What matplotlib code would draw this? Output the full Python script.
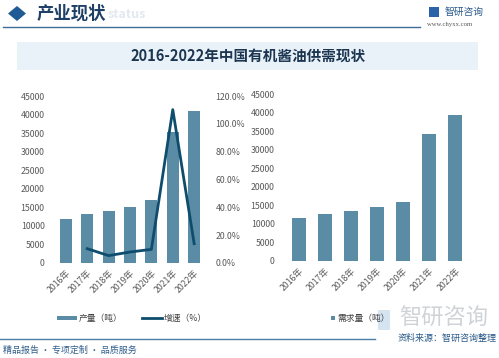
import matplotlib
matplotlib.use("Agg")
import matplotlib.pyplot as plt
from matplotlib.patches import Rectangle, Polygon
from matplotlib.lines import Line2D
from matplotlib.ticker import FuncFormatter

plt.rcParams['font.family'] = ['Noto Sans CJK SC', 'DejaVu Sans']

years = ['2016年', '2017年', '2018年', '2019年', '2020年', '2021年', '2022年']
production = [11950, 13100, 13900, 15200, 16900, 35300, 41000]
growth = [None, 10.3, 5.3, 7.9, 9.8, 110.2, 13.9]
demand = [11700, 12700, 13500, 14600, 15900, 34100, 39400]

W, H = 499, 358
BAR = '#5b8ca5'
LINE = '#0e4d6d'
TICK = '#595959'

fig = plt.figure(figsize=(W / 100, H / 100), dpi=100)
fig.patch.set_facecolor('white')

def fx(x):
    return x / W

def fy(y):
    return 1 - y / H

def axes_px(l, t, r, b):
    return fig.add_axes([fx(l), fy(b), fx(r) - fx(l), fy(t) - fy(b)])

# ---- header ----
fig.patches.append(Polygon([[fx(8), fy(13.5)], [fx(17), fy(6)], [fx(26), fy(13.5)], [fx(17), fy(21)]],
                           closed=True, transform=fig.transFigure, facecolor='#1f5b94', edgecolor='none'))
fig.text(fx(37), fy(13.5), '产业现状', fontsize=12.5, fontweight='bold', color='#1e3f66',
         va='center', ha='left')
fig.text(fx(108), fy(14.5), 'status', fontsize=9, fontweight='bold', color='#e3e9f0', va='center', ha='left')
fig.add_artist(Line2D([fx(3), fx(420)], [fy(26.5), fy(26.5)], transform=fig.transFigure, color='#3f6f99', lw=1))
# logo
fig.patches.append(Rectangle((fx(429), fy(17)), fx(10), 10 / H, transform=fig.transFigure,
                             facecolor='#2a63a8', edgecolor='none'))
fig.text(fx(445), fy(12), '智研咨询', fontsize=7, color='#2a5a8a', va='center', ha='left')
fig.text(fx(427), fy(24.5), 'www.chyxx.com', fontsize=4.8, color='#555555', va='center', ha='left',
         family=['Liberation Serif', 'DejaVu Serif'])

# ---- title band ----
fig.patches.append(Rectangle((fx(17), fy(70)), fx(478) - fx(17), 28 / H, transform=fig.transFigure,
                             facecolor='#e9f2f9', edgecolor='none'))
fig.text(fx(248), fy(56), '2016-2022年中国有机酱油供需现状', fontsize=10.5, fontweight='bold',
         color='#1c3550', va='center', ha='center')

x = list(range(len(years)))

# ---- left chart ----
ax1 = axes_px(53, 96, 207, 263)
ax1.bar(x, production, width=0.56, color=BAR, zorder=2)
ax1.set_ylim(0, 45000)
ax1.set_yticks(range(0, 45001, 5000))
ax1.set_xlim(-0.6, 6.6)
ax1.set_xticks(x)
ax1.set_xticklabels(years, rotation=45, ha='right', rotation_mode='anchor', fontsize=6.3, color=TICK)
ax1.tick_params(axis='y', labelsize=6.3, labelcolor=TICK, length=0, pad=6)
ax1.tick_params(axis='x', length=0, pad=4)
for s in ax1.spines.values():
    s.set_visible(False)
ax1.patch.set_alpha(0)

ax2 = ax1.twinx()
gx = [i for i, g in zip(x, growth) if g is not None]
gy = [g for g in growth if g is not None]
ax2.plot(gx, gy, color=LINE, lw=2, zorder=3)
ax2.set_ylim(0, 120)
ax2.set_yticks(range(0, 121, 20))
ax2.yaxis.set_major_formatter(FuncFormatter(lambda v, p: f'{v:.1f}%'))
ax2.tick_params(axis='y', labelsize=6.3, labelcolor=TICK, length=0, pad=6)
for s in ax2.spines.values():
    s.set_visible(False)

# ---- right chart ----
ax3 = axes_px(283, 94, 471, 261)
ax3.bar(x, demand, width=0.54, color=BAR, zorder=2)
ax3.set_ylim(0, 45000)
ax3.set_yticks(range(0, 45001, 5000))
ax3.set_xlim(-0.6, 6.6)
ax3.set_xticks(x)
ax3.set_xticklabels(years, rotation=45, ha='right', rotation_mode='anchor', fontsize=6.3, color=TICK)
ax3.tick_params(axis='y', labelsize=6.3, labelcolor=TICK, length=0, pad=6)
ax3.tick_params(axis='x', length=0, pad=4)
for k, s in ax3.spines.items():
    s.set_visible(False)
ax3.axhline(0, color='#e6e6e6', lw=0.8, zorder=1)
ax3.patch.set_alpha(0)

# ---- legends ----
fig.patches.append(Rectangle((fx(57), fy(320)), fx(20), 4 / H, transform=fig.transFigure,
                             facecolor=BAR, edgecolor='none'))
fig.text(fx(79), fy(318), '产量（吨）', fontsize=6.3, color='#404040', va='center', ha='left')
fig.add_artist(Line2D([fx(142), fx(162)], [fy(318), fy(318)], transform=fig.transFigure, color=LINE, lw=2))
fig.text(fx(164), fy(318), '增速（%）', fontsize=6.3, color='#404040', va='center', ha='left')

fig.patches.append(Rectangle((fx(331), fy(320)), fx(4), 4 / H, transform=fig.transFigure,
                             facecolor=BAR, edgecolor='none'))
fig.text(fx(337), fy(318), '需求量（吨）', fontsize=6.3, color='#404040', va='center', ha='left')

# ---- footer ----
fig.patches.append(Rectangle((fx(378), fy(330)), fx(12), 20 / H, transform=fig.transFigure,
                             facecolor='#c3d9ec', edgecolor='none', alpha=0.7))
fig.text(fx(444), fy(318), '智研咨询', fontsize=16, color='#cfd3d7', va='center', ha='center')
fig.add_artist(Line2D([fx(0), fx(375)], [fy(339), fy(339)], transform=fig.transFigure, color='#4a7ea8', lw=1))
fig.text(fx(497), fy(338), '资料来源：智研咨询整理', fontsize=6.5, color='#2a5a8a', va='center', ha='right')
fig.text(fx(3), fy(350), '精品报告 · 专项定制 · 品质服务', fontsize=6.5, color='#2f5e8a', va='center', ha='left')

fig.savefig('out.png', dpi=100, facecolor='white')
